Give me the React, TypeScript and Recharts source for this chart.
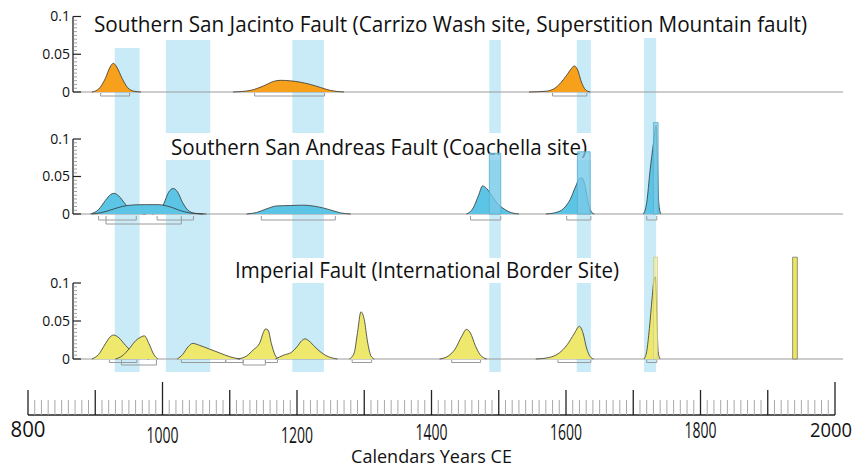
import React from 'react';
import { ComposedChart, Area, XAxis, YAxis, ReferenceArea, ReferenceLine } from 'recharts';

type Pt = [number, number];
type Span = [number, number];
type Event = [number, number, number];

const FONT = '"Open Sans", "Noto Sans", sans-serif';

const titles = [
  'Southern San Jacinto Fault (Carrizo Wash site, Superstition Mountain fault)',
  'Southern San Andreas Fault (Coachella site)',
  'Imperial Fault (International Border Site)',
];

// event windows shaded through every panel (years CE)
const bandStart = [929, 1005, 1193, 1486, 1616, 1716];
const bandEnd = [966, 1071, 1240, 1503, 1637, 1734];

// Southern San Jacinto, probability density [year, p]
const sjPdf1: Pt[] = [[895, 0], [905, 0.004], [915, 0.018], [922, 0.033], [927, 0.038], [932, 0.033], [940, 0.018], [948, 0.006], [958, 0.001], [968, 0]];
const sjPdf2: Pt[] = [[1105, 0], [1130, 0.002], [1150, 0.008], [1165, 0.014], [1175, 0.0155], [1190, 0.0148], [1205, 0.013], [1220, 0.01], [1235, 0.006], [1250, 0.002], [1270, 0]];
const sjPdf3: Pt[] = [[1545, 0], [1570, 0.001], [1585, 0.006], [1600, 0.021], [1608, 0.031], [1612, 0.0345], [1617, 0.03], [1623, 0.013], [1629, 0.003], [1636, 0]];
const sjRanges: Span[] = [[908, 951], [1137, 1241], [1580, 1631]];

// Southern San Andreas
const saPdfA: Pt[] = [[893, 0], [905, 0.006], [915, 0.018], [923, 0.026], [928, 0.0276], [935, 0.024], [945, 0.013], [955, 0.005], [965, 0.001], [975, 0]];
const saPdfC: Pt[] = [[985, 0], [995, 0.004], [1002, 0.014], [1009, 0.029], [1016, 0.034], [1022, 0.03], [1030, 0.015], [1038, 0.005], [1048, 0.001], [1065, 0]];
const saPdfB: Pt[] = [[895, 0], [910, 0.002], [925, 0.006], [940, 0.01], [955, 0.012], [975, 0.0125], [995, 0.0125], [1005, 0.011], [1015, 0.0085], [1025, 0.005], [1040, 0.0015], [1060, 0]];
const saPdfD: Pt[] = [[1125, 0], [1140, 0.002], [1155, 0.007], [1170, 0.0108], [1190, 0.0113], [1210, 0.0118], [1225, 0.0105], [1240, 0.0078], [1255, 0.004], [1265, 0.0015], [1280, 0]];
const saPdfE: Pt[] = [[1452, 0], [1462, 0.008], [1470, 0.025], [1476, 0.0375], [1482, 0.034], [1490, 0.024], [1498, 0.014], [1506, 0.008], [1515, 0.003], [1530, 0]];
const saPdfF: Pt[] = [[1570, 0], [1585, 0.002], [1596, 0.007], [1606, 0.019], [1614, 0.036], [1620, 0.047], [1624, 0.048], [1629, 0.035], [1633, 0.015], [1637, 0.004], [1642, 0]];
const saPdfG: Pt[] = [[1715, 0], [1720, 0.015], [1725, 0.058], [1730, 0.094], [1734, 0.118], [1736, 0.07], [1738, 0.015], [1741, 0]];
const saRanges: Span[] = [[905, 961], [992, 1046], [1147, 1257], [1458, 1503], [1601, 1637], [1720, 1735]];
const saRangesLower: Span[] = [[916, 1028]];
const saEvents: Event[] = [[1486, 1503, 0.081], [1617, 1636, 0.083], [1730, 1737, 0.122]];

// Imperial
const imPdfH: Pt[] = [[895, 0], [905, 0.006], [915, 0.02], [922, 0.029], [927, 0.0315], [935, 0.028], [945, 0.018], [955, 0.009], [965, 0.004], [980, 0]];
const imPdfI: Pt[] = [[930, 0], [940, 0.004], [950, 0.013], [960, 0.024], [968, 0.029], [973, 0.0305], [980, 0.02], [987, 0.006], [993, 0]];
const imPdfJ: Pt[] = [[1022, 0], [1030, 0.006], [1038, 0.016], [1045, 0.0205], [1055, 0.018], [1070, 0.013], [1085, 0.008], [1100, 0.003], [1115, 0]];
const imPdfK: Pt[] = [[1112, 0], [1125, 0.004], [1135, 0.012], [1145, 0.022], [1150, 0.035], [1153, 0.0395], [1157, 0.038], [1162, 0.02], [1167, 0.006], [1173, 0]];
const imPdfL: Pt[] = [[1168, 0], [1180, 0.005], [1192, 0.009], [1200, 0.016], [1207, 0.024], [1212, 0.0265], [1220, 0.022], [1230, 0.013], [1242, 0.005], [1260, 0]];
const imPdfM: Pt[] = [[1278, 0], [1285, 0.008], [1290, 0.035], [1295, 0.062], [1300, 0.052], [1305, 0.022], [1310, 0.004], [1315, 0]];
const imPdfN: Pt[] = [[1412, 0], [1425, 0.004], [1435, 0.013], [1445, 0.03], [1452, 0.039], [1458, 0.034], [1465, 0.018], [1472, 0.006], [1482, 0]];
const imPdfO: Pt[] = [[1555, 0], [1575, 0.002], [1590, 0.008], [1602, 0.019], [1612, 0.033], [1620, 0.043], [1625, 0.035], [1631, 0.013], [1636, 0.003], [1641, 0]];
const imPdfP: Pt[] = [[1716, 0], [1720, 0.01], [1724, 0.04], [1728, 0.08], [1731, 0.105], [1733, 0.108], [1735, 0.06], [1737, 0.01], [1740, 0]];
const imRanges: Span[] = [[921, 962], [1028, 1094], [1094, 1120], [1153, 1171], [1282, 1311], [1430, 1473], [1588, 1637], [1720, 1735]];
const imRangesLower: Span[] = [[939, 991], [1120, 1153]];
const imEventsFaint: Event[] = [[1730, 1736, 0.134]];
const imEvents1940: Event[] = [[1937, 1944, 0.134]];

const valueLabels = ['0', '0.05', '0.1'];
const yearLabels = ['800', '1000', '1200', '1400', '1600', '1800', '2000'];

// ---- layout ----
const PX_PER_YEAR = 807 / 1200;
const yearAtPx = (px: number) => 800 + (px - 28) / PX_PER_YEAR;
const X_MIN = yearAtPx(73);
const X_MAX = yearAtPx(843);

type Layout = { top: number; height: number; zero: number; tenth: number; rTop: number; rDepth: number; rLower: number };
const sjLayout: Layout = { top: 0, height: 118, zero: 92, tenth: 16.5, rTop: 1, rDepth: 4, rLower: 7 };
const saLayout: Layout = { top: 118, height: 127, zero: 214, tenth: 139, rTop: 2, rDepth: 6, rLower: 10 };
const imLayout: Layout = { top: 245, height: 127, zero: 359, tenth: 283, rTop: 1, rDepth: 3.5, rLower: 6 };
const valueAt = (l: Layout, py: number) => ((l.zero - py) / (l.zero - l.tenth)) * 0.1;

const sjBandTopPx = [48, 40, 40, 40, 40, 38];
const titleBoxes = [
  { left: 89, right: 812, top: 12, bottom: 37 },
  { left: 166, right: 592, top: 133, bottom: 160 },
  { left: 230, right: 624, top: 258, bottom: 283 },
];
// year label placement below the axis line: [baseline drop, width, x nudge, font size]
const LABEL_FIT: Record<string, [number, number, number, number]> = {
  '800': [22, 35, 0, 22],
  '1000': [28, 32, 0, 21],
  '1200': [28, 32, 0, 21],
  '1400': [25, 32, 0, 21],
  '1600': [25, 32, 0, 21],
  '1800': [23, 32, 0, 21],
  '2000': [22, 42, -4, 20],
};

const BAND = '#c9ebf8';
const valueTicks = Array.from({ length: 21 }, (_, i) => i * 0.005);
const yearTicks = Array.from({ length: 121 }, (_, i) => 800 + i * 10);

const tableFrom = (curves: Record<string, Pt[]>) => {
  const rows = new Map<number, Record<string, number>>();
  Object.entries(curves).forEach(([key, pts]) => {
    pts.forEach(([year, v]) => {
      const row = rows.get(year) ?? { year };
      row[key] = v;
      rows.set(year, row);
    });
  });
  return [...rows.values()].sort((a, b) => a.year - b.year);
};

const ValueTick = (p: any) => {
  const v = p.payload.value;
  const label = valueLabels.find((l) => Math.abs(Number(l) - v) < 1e-6);
  return (
    <g>
      <line x1={p.x} x2={p.x + (label ? 8 : 4)} y1={p.y} y2={p.y} stroke={label ? '#222' : '#8a8a8a'} strokeWidth={label ? 1.2 : 0.8} />
      {label && (
        <text x={p.x - 3} y={p.y} dy="0.35em" textAnchor="end" fontSize={14} fontFamily={FONT} fill="#111">
          {label}
        </text>
      )}
    </g>
  );
};

const YearTick = (p: any) => {
  const yr = Math.round(p.payload.value);
  const major = yr % 100 === 0;
  const len = yr % 1000 === 0 ? 33 : major ? 25 : 15;
  const label = yearLabels.find((l) => Number(l) === yr);
  const fit = label ? LABEL_FIT[label] : null;
  return (
    <g>
      <line x1={p.x} x2={p.x} y1={p.y} y2={p.y - len} stroke={major ? '#222' : '#a8a8a8'} strokeWidth={major ? 1.3 : 1} />
      {label && fit && (
        <text
          x={p.x + fit[2]}
          y={p.y + fit[0]}
          textAnchor="middle"
          fontSize={fit[3]}
          fontFamily={FONT}
          fill="#111"
          textLength={fit[1]}
          lengthAdjust="spacingAndGlyphs"
        >
          {label}
        </text>
      )}
    </g>
  );
};

const titleContent = (text: string) => (p: any) => {
  const vb = p.viewBox ?? { x: 0, y: 0, width: 100, height: 20 };
  return (
    <text x={vb.x + 5} y={vb.y + vb.height - 5} textLength={vb.width - 10} lengthAdjust="spacingAndGlyphs" fontSize={21} fontFamily={FONT} fill="#111">
      {text}
    </text>
  );
};

const bracketShape = (p: any) => (
  <path d={`M${p.x},${p.y}V${p.y + p.height}H${p.x + p.width}V${p.y}`} fill="none" stroke="#9a9a9a" strokeWidth={1} />
);

type EventSet = { bars: Event[]; fill: string; opacity: number; stroke: string };

type PanelProps = {
  layout: Layout;
  titleIdx: number;
  titleFill: number;
  curves: Record<string, Pt[]>;
  fill: string;
  ranges: Span[];
  lowerRanges: Span[];
  events: EventSet[];
  bandTopPx?: number[];
};

function Panel({ layout, titleIdx, titleFill, curves, fill, ranges, lowerRanges, events, bandTopPx }: PanelProps) {
  const lo = valueAt(layout, layout.top + layout.height);
  const hi = valueAt(layout, layout.top);
  const box = titleBoxes[titleIdx];
  const rTop = valueAt(layout, layout.zero + layout.rTop);
  return (
    <ComposedChart width={858} height={layout.height} data={tableFrom(curves)} margin={{ top: 0, right: 15, bottom: 0, left: 0 }}>
      <XAxis type="number" dataKey="year" domain={[X_MIN, X_MAX]} allowDataOverflow hide />
      <YAxis
        type="number"
        domain={[lo, hi]}
        allowDataOverflow
        width={73}
        ticks={valueTicks}
        interval={0}
        tickSize={0}
        tickMargin={0}
        axisLine={false}
        tickLine={false}
        tick={ValueTick}
      />
      {bandStart.map((s, i) => (
        <ReferenceArea
          key={`band${i}`}
          x1={s}
          x2={bandEnd[i]}
          y1={bandTopPx ? lo : undefined}
          y2={bandTopPx ? valueAt(layout, bandTopPx[i]) : undefined}
          fill={BAND}
          fillOpacity={1}
          stroke="none"
          zIndex={1}
        />
      ))}
      <ReferenceArea
        x1={yearAtPx(box.left)}
        x2={yearAtPx(box.right)}
        y1={valueAt(layout, box.bottom)}
        y2={valueAt(layout, box.top)}
        fill="#ffffff"
        fillOpacity={titleFill}
        stroke="none"
        zIndex={2}
        label={titleContent(titles[titleIdx])}
      />
      <ReferenceLine y={0} stroke="#9a9a9a" strokeWidth={1} zIndex={3} />
      {Object.keys(curves).map((k) => (
        <Area
          key={k}
          dataKey={k}
          type="monotone"
          connectNulls
          baseValue={0}
          fill={fill}
          fillOpacity={1}
          stroke="#333"
          strokeWidth={0.8}
          dot={false}
          activeDot={false}
          isAnimationActive={false}
        />
      ))}
      {events.map((set, si) =>
        set.bars.map(([a, b, h], i) => (
          <ReferenceArea key={`ev${si}-${i}`} x1={a} x2={b} y1={0} y2={h} fill={set.fill} fillOpacity={set.opacity} stroke={set.stroke} strokeWidth={0.8} zIndex={150} />
        ))
      )}
      {ranges.map(([a, b], i) => (
        <ReferenceArea key={`r${i}`} x1={a} x2={b} y1={valueAt(layout, layout.zero + layout.rDepth)} y2={rTop} shape={bracketShape} zIndex={150} />
      ))}
      {lowerRanges.map(([a, b], i) => (
        <ReferenceArea key={`rl${i}`} x1={a} x2={b} y1={valueAt(layout, layout.zero + layout.rLower)} y2={rTop} shape={bracketShape} zIndex={150} />
      ))}
      <ReferenceLine segment={[{ x: X_MIN, y: 0 }, { x: X_MIN, y: 0.1 }]} stroke="#222" strokeWidth={1.3} zIndex={600} />
    </ComposedChart>
  );
}

function YearAxis() {
  return (
    <ComposedChart width={858} height={98} data={yearTicks.map((year) => ({ year }))} margin={{ top: 0, right: 23, bottom: 0, left: 28 }}>
      <XAxis
        type="number"
        dataKey="year"
        domain={[800, 2000]}
        allowDataOverflow
        ticks={yearTicks}
        interval={0}
        tickSize={0}
        tickMargin={0}
        height={55}
        tickLine={false}
        axisLine={{ stroke: '#222', strokeWidth: 1.3 }}
        tick={YearTick}
        label={{ value: 'Calendars Years CE', position: 'insideBottom', offset: 7, fontSize: 18, fontFamily: FONT, fill: '#111' }}
      />
      <YAxis type="number" domain={[0, 1]} hide />
      {bandStart.map((s, i) => (
        <ReferenceArea key={`band${i}`} x1={s} x2={bandEnd[i]} fill={BAND} fillOpacity={1} stroke="none" zIndex={1} />
      ))}
    </ComposedChart>
  );
}

export default function App() {
  return (
    <div style={{ position: 'absolute', left: 0, top: 0, width: 858, height: 470, background: '#fff' }}>
      <Panel
        layout={sjLayout}
        titleIdx={0}
        titleFill={0}
        curves={{ sj1: sjPdf1, sj2: sjPdf2, sj3: sjPdf3 }}
        fill="#f6a01c"
        ranges={sjRanges}
        lowerRanges={[]}
        events={[]}
        bandTopPx={sjBandTopPx}
      />
      <Panel
        layout={saLayout}
        titleIdx={1}
        titleFill={1}
        curves={{ saA: saPdfA, saC: saPdfC, saB: saPdfB, saD: saPdfD, saE: saPdfE, saF: saPdfF, saG: saPdfG }}
        fill="#5cc4e5"
        ranges={saRanges}
        lowerRanges={saRangesLower}
        events={[{ bars: saEvents, fill: '#7ccbe8', opacity: 0.75, stroke: '#5aaed0' }]}
      />
      <Panel
        layout={imLayout}
        titleIdx={2}
        titleFill={1}
        curves={{ imH: imPdfH, imI: imPdfI, imJ: imPdfJ, imK: imPdfK, imL: imPdfL, imM: imPdfM, imN: imPdfN, imO: imPdfO, imP: imPdfP }}
        fill="#eee96c"
        ranges={imRanges}
        lowerRanges={imRangesLower}
        events={[
          { bars: imEventsFaint, fill: '#f1ec8e', opacity: 0.6, stroke: '#cfcb8a' },
          { bars: imEvents1940, fill: '#eee65a', opacity: 1, stroke: '#777' },
        ]}
      />
      <YearAxis />
    </div>
  );
}
